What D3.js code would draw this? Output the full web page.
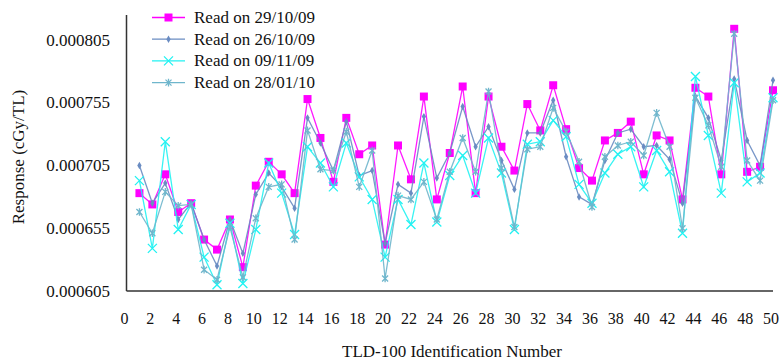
<!DOCTYPE html>
<html>
<head>
<meta charset="utf-8">
<script src="https://cdnjs.cloudflare.com/ajax/libs/d3/7.8.5/d3.min.js"></script>
<style>
  body { margin: 0; background: #fff; }
</style>
</head>
<body>
<script>
const ids = d3.range(1, 51)

const read291009 = [
  0.000683, 0.000674, 0.000698, 0.000668, 0.000675, 0.000646, 0.000638, 0.000662, 0.000624, 0.000689,
  0.000708, 0.000698, 0.000683, 0.000758, 0.000727, 0.000692, 0.000743, 0.000714, 0.000721, 0.000642,
  0.000721, 0.000694, 0.000760, 0.000678, 0.000715, 0.000768, 0.000683, 0.000760, 0.000720, 0.000701,
  0.000754, 0.000733, 0.000769, 0.000734, 0.000703, 0.000693, 0.000725, 0.000731, 0.000740, 0.000698,
  0.000729, 0.000725, 0.000678, 0.000767, 0.000760, 0.000698, 0.000814, 0.000700, 0.000704, 0.000765
]
const read261009 = [
  0.000705, 0.000675, 0.000691, 0.000662, 0.000675, 0.000646, 0.000625, 0.000662, 0.000635, 0.000682,
  0.000699, 0.000688, 0.000671, 0.000743, 0.000723, 0.000701, 0.000740, 0.000697, 0.000701, 0.000643,
  0.000690, 0.000683, 0.000744, 0.000695, 0.000715, 0.000752, 0.000720, 0.000736, 0.000709, 0.000686,
  0.000731, 0.000731, 0.000757, 0.000712, 0.000680, 0.000674, 0.000709, 0.000731, 0.000734, 0.000720,
  0.000721, 0.000710, 0.000675, 0.000760, 0.000743, 0.000709, 0.000774, 0.000725, 0.000705, 0.000773
]
const read091109 = [
  0.000693, 0.000639, 0.000724, 0.000654, 0.000674, 0.000632, 0.000610, 0.000659, 0.000611, 0.000654,
  0.000707, 0.000683, 0.000650, 0.000720, 0.000707, 0.000688, 0.000723, 0.000696, 0.000678, 0.000632,
  0.000678, 0.000658, 0.000707, 0.000660, 0.000697, 0.000713, 0.000683, 0.000727, 0.000699, 0.000654,
  0.000722, 0.000724, 0.000741, 0.000728, 0.000690, 0.000675, 0.000699, 0.000714, 0.000720, 0.000688,
  0.000717, 0.000700, 0.000651, 0.000776, 0.000729, 0.000683, 0.000771, 0.000692, 0.000699, 0.000759
]
const read280110 = [
  0.000668, 0.000651, 0.000684, 0.000673, 0.000674, 0.000622, 0.000614, 0.000656, 0.000616, 0.000663,
  0.000688, 0.000690, 0.000646, 0.000733, 0.000702, 0.000701, 0.000732, 0.000688, 0.000717, 0.000615,
  0.000681, 0.000678, 0.000692, 0.000662, 0.000700, 0.000727, 0.000700, 0.000764, 0.000703, 0.000656,
  0.000718, 0.000720, 0.000751, 0.000732, 0.000708, 0.000672, 0.000712, 0.000721, 0.000724, 0.000713,
  0.000747, 0.000720, 0.000655, 0.000759, 0.000737, 0.000704, 0.000810, 0.000709, 0.000693, 0.000757
]

const seriesNames = ['Read on 29/10/09', 'Read on 26/10/09', 'Read on 09/11/09', 'Read on 28/01/10']
const xTicks = d3.range(0, 51, 2)
const yTicks = [0.000605, 0.000655, 0.000705, 0.000755, 0.000805]

const width = 782,
    height = 363
const serif = "'Liberation Serif', 'DejaVu Serif', 'Times New Roman', serif"

const series = [
  { name: seriesNames[0], values: read291009, color: '#ff00ff', marker: 'square' },
  { name: seriesNames[1], values: read261009, color: '#6a8cc2', marker: 'diamond' },
  { name: seriesNames[2], values: read091109, color: '#22f2f2', marker: 'cross' },
  { name: seriesNames[3], values: read280110, color: '#6fb6cc', marker: 'star' }
]

const x = d3.scaleLinear().domain([0, 50]).range([126.5, 773])
const y = d3.scaleLinear().domain([0.000605, 0.000825]).range([291, 15])

const svg = d3.select('body').append('svg')
  .attr('width', width)
  .attr('height', height)
  .attr('font-family', serif)
  .style('font-family', serif)

function markerPath(type) {
  if (type === 'square') return 'M-4,-4H4V4H-4Z'
  if (type === 'diamond') return d3.symbol().type(d3.symbolDiamond).size(16)()
  if (type === 'cross') return 'M-4.5,-4.5L4.5,4.5M-4.5,4.5L4.5,-4.5'
  return 'M-3,-3L3,3M-3,3L3,-3M0,-3.8V3.8'
}

function drawMarker(g, s) {
  const p = g.append('path').attr('d', markerPath(s.marker))
  if (s.marker === 'square' || s.marker === 'diamond') {
    p.attr('fill', s.color).attr('stroke', 'none')
  } else {
    p.attr('fill', 'none').attr('stroke', s.color).attr('stroke-width', 1.3)
  }
}

const line = d3.line()
  .x(function(d, i) { return x(ids[i]) })
  .y(function(d) { return y(d) })

series.forEach(function(s) {
  svg.append('path')
    .datum(s.values)
    .attr('fill', 'none')
    .attr('stroke', s.color)
    .attr('stroke-width', 1.3)
    .attr('opacity', 0.9)
    .attr('d', line)

  svg.append('g')
    .selectAll('g')
    .data(s.values)
    .enter()
    .append('g')
    .attr('transform', function(d, i) { return `translate(${x(ids[i])},${y(d)})` })
    .each(function() { drawMarker(d3.select(this), s) })
})

// axes
svg.append('line')
  .attr('x1', x(0)).attr('x2', x(0))
  .attr('y1', y(0.000825)).attr('y2', y(0.000605))
  .attr('stroke', '#333').attr('stroke-width', 1.5)

svg.append('line')
  .attr('x1', x(0)).attr('x2', x(50))
  .attr('y1', y(0.000605)).attr('y2', y(0.000605))
  .attr('stroke', '#333').attr('stroke-width', 1.5)

svg.append('g')
  .selectAll('text')
  .data(yTicks)
  .enter()
  .append('text')
  .attr('x', 110)
  .attr('y', function(d) { return y(d) + 5.5 })
  .attr('text-anchor', 'end')
  .attr('fill', '#111')
  .style('font-size', '17px')
  .text(function(d) { return d.toFixed(6) })

svg.append('g')
  .selectAll('text')
  .data(xTicks)
  .enter()
  .append('text')
  .attr('x', function(d) { return x(d) - 2 })
  .attr('y', 324)
  .attr('text-anchor', 'middle')
  .attr('fill', '#111')
  .style('font-size', '16px')
  .text(function(d) { return d })

svg.append('text')
  .attr('transform', 'translate(24,157) rotate(-90)')
  .attr('text-anchor', 'middle')
  .attr('fill', '#111')
  .style('font-size', '17px')
  .text('Response (cGy/TL)')

svg.append('text')
  .attr('x', 452)
  .attr('y', 357)
  .attr('text-anchor', 'middle')
  .attr('fill', '#111')
  .style('font-size', '17px')
  .text('TLD-100 Identification Number')

// legend
const legend = svg.append('g')
  .selectAll('g')
  .data(series)
  .enter()
  .append('g')
  .attr('transform', function(d, i) { return `translate(152,${17.5 + i * 21.7})` })

legend.append('line')
  .attr('x1', 0).attr('x2', 33)
  .attr('stroke', function(d) { return d.color })
  .attr('stroke-width', 1.3)

legend.append('g')
  .attr('transform', 'translate(16.5,0)')
  .each(function(d) { drawMarker(d3.select(this), d) })

legend.append('text')
  .attr('x', 42)
  .attr('y', 5.5)
  .attr('fill', '#111')
  .style('font-size', '17px')
  .text(function(d) { return d.name })
</script>
</body>
</html>
